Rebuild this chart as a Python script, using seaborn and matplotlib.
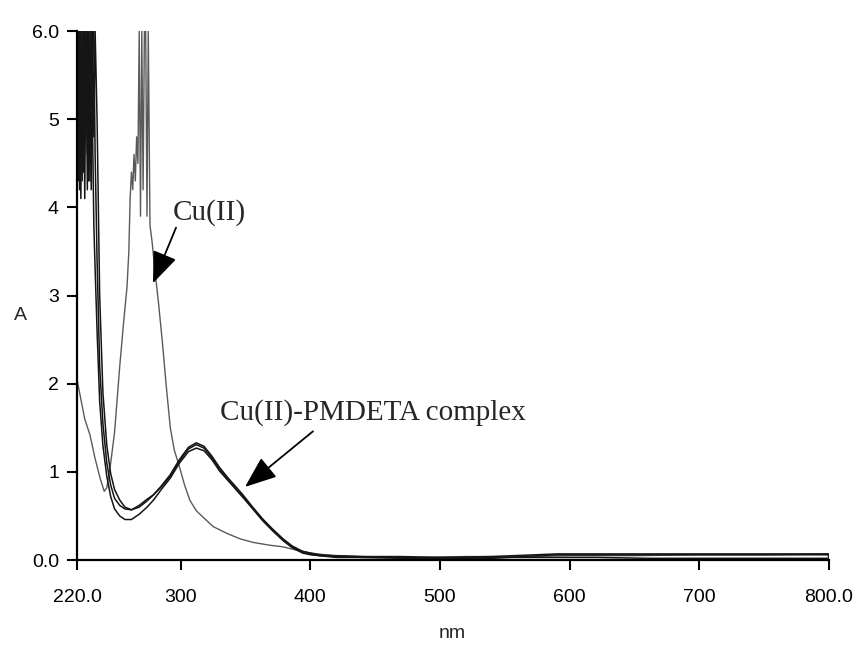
import matplotlib
matplotlib.use("Agg")
import matplotlib.pyplot as plt
import seaborn as sns
import pandas as pd

# wavelength grid and absorbance of free Cu(II)
wl_cu = [220, 222, 226, 230, 234, 238, 241, 243, 246, 249,
         253, 256, 258.6, 260, 261, 262, 263, 264, 265, 266,
         267, 268, 269, 270, 271, 272, 273, 274, 275, 276.3,
         278, 280, 283, 286, 289, 292, 295, 299, 303, 307,
         312, 317, 325, 336, 346, 356, 368, 379, 390, 400,
         417, 440, 480, 520, 560, 600, 650, 700, 750, 800]
a_cu = [2.05, 1.9, 1.6, 1.42, 1.15, 0.92, 0.78, 0.82, 1.1, 1.45,
        2.2, 2.7, 3.1, 3.5, 4.1, 4.4, 4.2, 4.6, 4.3, 4.8,
        4.5, 6.0, 3.9, 6.0, 4.2, 6.0, 6.0, 3.9, 6.0, 3.8,
        3.6, 3.3, 2.9, 2.45, 1.95, 1.5, 1.25, 1.06, 0.85, 0.68,
        0.56, 0.49, 0.38, 0.3, 0.24, 0.2, 0.17, 0.15, 0.11, 0.08,
        0.05, 0.04, 0.03, 0.04, 0.04, 0.05, 0.05, 0.06, 0.06, 0.07]

# Cu(II)-PMDETA complex, three repeat scans on a common grid
wl_cx = [220, 221, 222, 223, 224, 225, 226, 227, 228, 229,
         230, 231, 232, 233, 234, 235.5, 237.5, 240, 243, 246,
         249, 253, 257, 262, 268, 274, 279, 285, 292, 299,
         306, 312, 318, 324, 330, 336, 342, 348, 355, 363,
         371, 379, 386, 394, 400, 407, 420, 440, 470, 500,
         540, 590, 620, 660, 700, 750, 799, 800]
a_cx1 = [6.0, 4.3, 6.0, 4.1, 6.0, 4.4, 6.0, 5.0, 6.0, 4.3,
         6.0, 4.2, 6.0, 6.0, 4.6, 3.4, 2.2, 1.55, 1.1, 0.85,
         0.7, 0.62, 0.58, 0.57, 0.62, 0.69, 0.74, 0.83, 0.95, 1.12,
         1.26, 1.31, 1.27, 1.16, 1.03, 0.92, 0.82, 0.72, 0.6, 0.46,
         0.34, 0.23, 0.15, 0.09, 0.07, 0.05, 0.04, 0.03, 0.03, 0.02,
         0.02, 0.06, 0.06, 0.06, 0.06, 0.06, 0.06, 0.03]
a_cx2 = [5.6, 6.0, 4.2, 6.0, 4.5, 6.0, 4.1, 6.0, 4.6, 6.0,
         4.3, 6.0, 4.9, 3.8, 3.3, 2.6, 1.8, 1.3, 0.95, 0.72,
         0.58, 0.5, 0.46, 0.46, 0.52, 0.6, 0.68, 0.8, 0.93, 1.1,
         1.23, 1.27, 1.24, 1.14, 1.01, 0.91, 0.81, 0.71, 0.59, 0.45,
         0.33, 0.22, 0.14, 0.08, 0.06, 0.05, 0.03, 0.03, 0.02, 0.02,
         0.03, 0.03, 0.03, 0.02, 0.02, 0.02, 0.02, 0.02]
a_cx3 = [6.0, 6.0, 4.6, 6.0, 4.3, 6.0, 5.4, 6.0, 4.2, 6.0,
         4.5, 6.0, 6.0, 4.8, 6.0, 5.0, 3.0, 1.9, 1.3, 0.98,
         0.8, 0.68, 0.6, 0.57, 0.6, 0.67, 0.74, 0.84, 0.97, 1.14,
         1.28, 1.33, 1.29, 1.18, 1.05, 0.94, 0.84, 0.74, 0.61, 0.47,
         0.35, 0.24, 0.16, 0.1, 0.08, 0.06, 0.05, 0.04, 0.04, 0.03,
         0.04, 0.07, 0.07, 0.07, 0.07, 0.07, 0.07, 0.07]

x_ticks = [220, 300, 400, 500, 600, 700, 800]
x_labels = ["220.0", "300", "400", "500", "600", "700", "800.0"]
y_ticks = [0, 1, 2, 3, 4, 5, 6]
y_labels = ["0.0", "1", "2", "3", "4", "5", "6.0"]

sns.set_style("ticks")
plt.rcParams["font.family"] = ["Liberation Sans", "DejaVu Sans"]

fig = plt.figure(figsize=(8.6, 6.46), dpi=100)
ax = fig.add_axes([0.0895, 0.133, 0.8745, 0.819])

df_cu = pd.DataFrame({"nm": wl_cu, "A": a_cu})
sns.lineplot(ax=ax, data=df_cu, x="nm", y="A", color="#5a5a5a",
             linewidth=1.0, estimator=None, sort=False)
for vals in [a_cx1, a_cx2, a_cx3]:
    df_cx = pd.DataFrame({"nm": wl_cx, "A": vals})
    sns.lineplot(ax=ax, data=df_cx, x="nm", y="A", color="#151515",
                 linewidth=1.1, estimator=None, sort=False)

ax.set_xlim(220, 800)
ax.set_ylim(0, 6)
ax.set_xticks(x_ticks)
ax.set_xticklabels(x_labels)
ax.set_yticks(y_ticks)
ax.set_yticklabels(y_labels)
ax.tick_params(axis="x", length=7, width=1.5, pad=14, labelsize=14, colors="black")
ax.tick_params(axis="y", length=7, width=1.5, pad=6, labelsize=14, colors="black")
sns.despine(ax=ax)
for side in ["left", "bottom"]:
    ax.spines[side].set_linewidth(1.6)
    ax.spines[side].set_color("black")

ax.set_xlabel("")
ax.set_ylabel("")
fig.text(452 / 860, 1 - 634 / 646, "nm", ha="center", va="center", fontsize=14)
fig.text(20 / 860, 1 - 315 / 646, "A", ha="center", va="center", fontsize=14)

serif = ["Liberation Serif", "DejaVu Serif"]
ax.text(294, 3.94, "Cu(II)", ha="left", va="center", fontsize=21, family=serif)
ax.text(330, 1.67, "Cu(II)-PMDETA complex", ha="left", va="center",
        fontsize=21, family=serif)

arrow = dict(arrowstyle="-|>,head_length=1.4,head_width=0.55", color="black",
             lw=1.3, mutation_scale=14, shrinkA=0, shrinkB=0)
ax.annotate("", xy=(278.6, 3.14), xytext=(296.4, 3.77), arrowprops=arrow)
ax.annotate("", xy=(349.6, 0.83), xytext=(402, 1.46), arrowprops=arrow)

fig.savefig("out.png", dpi=100, facecolor="white")
